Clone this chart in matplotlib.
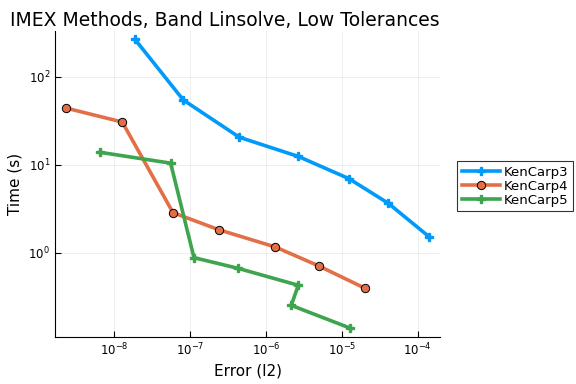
import matplotlib
matplotlib.use("Agg")
import matplotlib.pyplot as plt
import matplotlib.ticker as mticker
import numpy as np

# Data (log10 values)
kc3_err = [10**-7.727, 10**-7.090, 10**-6.352, 10**-5.574, 10**-4.905, 10**-4.387, 10**-3.846]
kc3_time = [265, 54.3, 20.5, 12.4, 6.93, 3.64, 1.51]
kc4_err = [10**-8.637, 10**-7.895, 10**-7.226, 10**-6.620, 10**-5.877, 10**-5.301, 10**-4.699]
kc4_time = [44, 30.5, 2.85, 1.82, 1.16, 0.705, 0.396]
kc5_err = [10**-8.185, 10**-7.257, 10**-6.949, 10**-6.369, 10**-5.574, 10**-5.666, 10**-4.892]
kc5_time = [13.8, 10.4, 0.877, 0.664, 0.426, 0.252, 0.139]
labels = ["KenCarp3", "KenCarp4", "KenCarp5"]
colors = ["#009AFA", "#E36F47", "#3EA44E"]

fig = plt.figure(figsize=(5.76, 3.84), dpi=100)
ax = fig.add_axes([55/576, 1-336.7/384, (440-55)/576, (336.7-31)/384])

ax.plot(kc3_err, kc3_time, color=colors[0], lw=2.6, marker='P', ms=6, mec=colors[0], label=labels[0])
ax.plot(kc4_err, kc4_time, color=colors[1], lw=2.6, marker='o', ms=6, mec='black', mew=0.7, label=labels[1])
ax.plot(kc5_err, kc5_time, color=colors[2], lw=2.6, marker='P', ms=6, mec=colors[2], label=labels[2])

ax.set_xscale('log')
ax.set_yscale('log')
ax.set_xlim(10**-8.782, 10**-3.705)
ax.set_ylim(10**-0.955, 10**2.519)
ax.xaxis.set_major_locator(mticker.FixedLocator([1e-8, 1e-7, 1e-6, 1e-5, 1e-4]))
ax.yaxis.set_major_locator(mticker.FixedLocator([1, 10, 100]))
ax.xaxis.set_minor_locator(mticker.NullLocator())
ax.yaxis.set_minor_locator(mticker.NullLocator())
ax.tick_params(direction='in', length=4, width=0.8, labelsize=8.5, colors='black')
ax.grid(True, color='black', alpha=0.08, lw=0.6)
for s in ['top', 'right']:
    ax.spines[s].set_visible(False)
ax.set_xlabel("Error (l2)", fontsize=11)
ax.set_ylabel("Time (s)", fontsize=11)

fig.text(10/576, 1-20/384, "IMEX Methods, Band Linsolve, Low Tolerances", fontsize=13.5, ha='left', va='center')

leg = ax.legend(loc='upper left', bbox_to_anchor=(457/576, 1-161/384), bbox_transform=fig.transFigure,
                fontsize=9.5, frameon=True, fancybox=False, edgecolor='black', borderpad=0.35,
                handlelength=2.9, labelspacing=0.08, borderaxespad=0, handletextpad=0.3)
leg.get_frame().set_linewidth(0.8)

fig.savefig("out.png", dpi=100)
